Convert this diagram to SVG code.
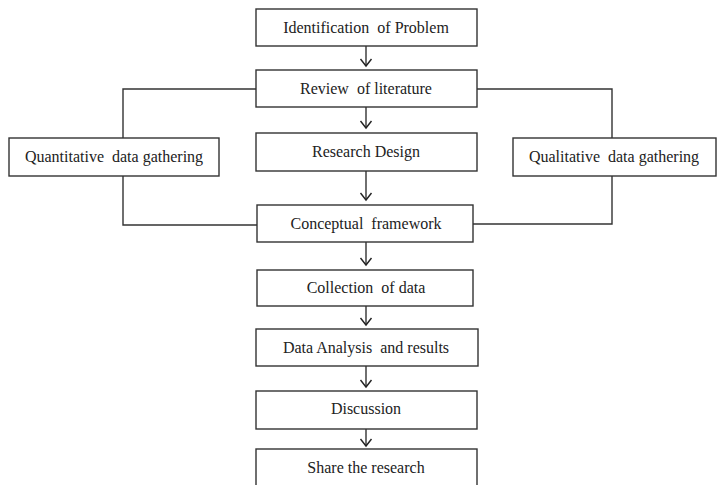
<svg xmlns="http://www.w3.org/2000/svg" width="717" height="485" viewBox="0 0 717 485">
<defs>
<marker id="arr" markerWidth="14" markerHeight="14" refX="10" refY="7" orient="auto" markerUnits="userSpaceOnUse" viewBox="0 0 14 14">
<path d="M3,1.5 L10,7 L3,12.5" fill="none" stroke="#222" stroke-width="1.4"/>
</marker>
</defs>
<style>
.box{fill:#fff;stroke:#333;stroke-width:1.4}
.t{font-family:'Liberation Serif','Times New Roman','DejaVu Serif',serif;font-size:16px;fill:#222;text-anchor:middle;white-space:pre}
.c{fill:none;stroke:#333;stroke-width:1.4}
</style>
<rect width="717" height="485" fill="#fff"/>
<g id="connectors">
<line class="c" x1="366" y1="46" x2="366" y2="66" marker-end="url(#arr)"/>
<line class="c" x1="366" y1="107" x2="366" y2="128" marker-end="url(#arr)"/>
<line class="c" x1="366" y1="171" x2="366" y2="200" marker-end="url(#arr)"/>
<line class="c" x1="366" y1="242" x2="366" y2="265" marker-end="url(#arr)"/>
<line class="c" x1="366" y1="306" x2="366" y2="325" marker-end="url(#arr)"/>
<line class="c" x1="366" y1="366" x2="366" y2="387" marker-end="url(#arr)"/>
<line class="c" x1="366" y1="429" x2="366" y2="446" marker-end="url(#arr)"/>
<polyline class="c" points="256,89 123,89 123,138"/>
<polyline class="c" points="123,176 123,225 257,225"/>
<polyline class="c" points="477,89 612,89 612,138"/>
<polyline class="c" points="612,176 612,224 473,224"/>
</g>
<g id="n1"><rect class="box" x="256" y="9" width="221" height="37"/><text class="t" x="366" y="33">Identification  of Problem</text></g>
<g id="n2"><rect class="box" x="256" y="70" width="221" height="37"/><text class="t" x="366" y="94">Review  of literature</text></g>
<g id="n3"><rect class="box" x="256" y="133" width="221" height="38"/><text class="t" x="366" y="157">Research Design</text></g>
<g id="n4"><rect class="box" x="257" y="205" width="216" height="37"/><text class="t" x="366" y="229">Conceptual  framework</text></g>
<g id="n5"><rect class="box" x="257" y="270" width="216" height="36"/><text class="t" x="366" y="293">Collection  of data</text></g>
<g id="n6"><rect class="box" x="256" y="329" width="222" height="37"/><text class="t" x="366" y="353">Data Analysis  and results</text></g>
<g id="n7"><rect class="box" x="256" y="391" width="221" height="38"/><text class="t" x="366" y="414">Discussion</text></g>
<g id="n8"><rect class="box" x="256" y="449" width="221" height="40"/><text class="t" x="366" y="473">Share the research</text></g>
<g id="q1"><rect class="box" x="9" y="138" width="210" height="38"/><text class="t" x="114" y="162">Quantitative  data gathering</text></g>
<g id="q2"><rect class="box" x="513" y="138" width="203" height="38"/><text class="t" x="614" y="162">Qualitative  data gathering</text></g>
</svg>
